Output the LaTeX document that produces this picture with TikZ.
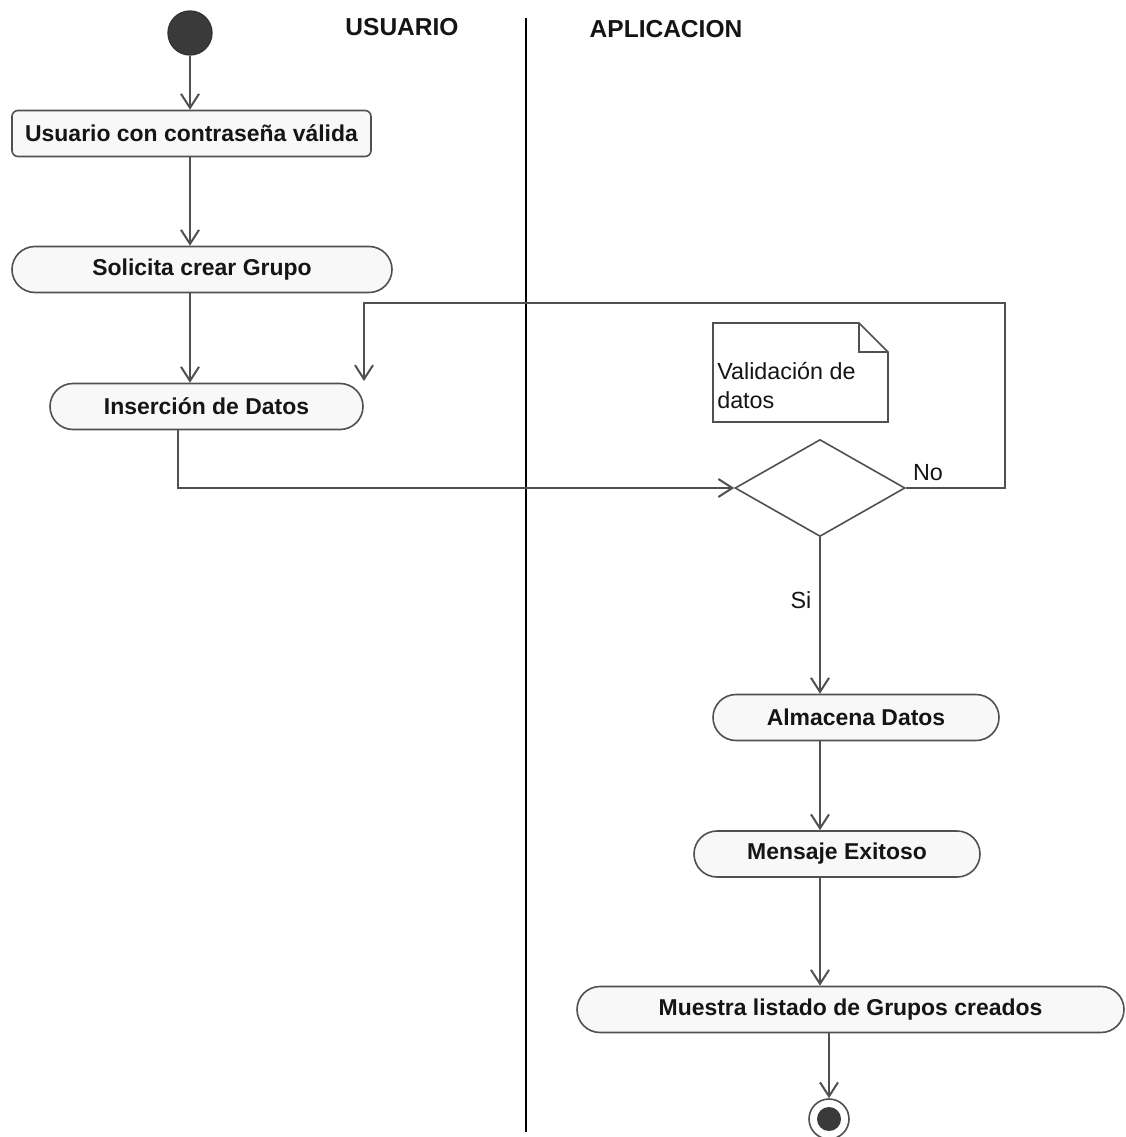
\documentclass[tikz,border=0pt]{standalone}
\usepackage{fontspec}
\setmainfont{Liberation Sans}
\usetikzlibrary{arrows.meta,shapes.geometric,calc}
\definecolor{linegray}{HTML}{505050}
\definecolor{fillgray}{HTML}{F8F8F8}
\definecolor{dotgray}{HTML}{3A3A3A}
\definecolor{textdark}{HTML}{151515}
\begin{document}
\begin{tikzpicture}[x=0.75pt,y=-0.75pt,
  arr/.style={draw=linegray,line width=1.5pt,-{Straight Barb[length=10.5pt,width=13.5pt,line width=1.5pt]}},
  conn/.style={draw=linegray,line width=1.5pt},
  actlabel/.style={font=\bfseries\fontsize{17.2pt}{19pt}\selectfont,text=textdark},
  stadium/.style={draw=linegray,line width=1.2pt,fill=fillgray,rectangle,rounded corners=17.25pt,
    minimum height=34.5pt,inner sep=0pt,actlabel},
  plainbox/.style={draw=linegray,line width=1.2pt,fill=fillgray,rectangle,rounded corners=4.5pt,
    minimum height=34.5pt,inner sep=0pt,actlabel},
  lanehead/.style={font=\bfseries\fontsize{18.4pt}{21pt}\selectfont,text=textdark},
  guard/.style={font=\fontsize{17.5pt}{20pt}\selectfont,text=textdark},
]
\useasboundingbox[fill=white] (0,0) rectangle (1126,1137);

% swimlane divider and headers
\draw[line width=1.5pt,black] (526,18) -- (526,1132);
\node[lanehead] (hUser) at (402,27) {USUARIO};
\node[lanehead] (hApp) at (666,29) {APLICACION};

% activity nodes
\node[circle,fill=dotgray,draw=black!80,line width=1pt,minimum size=33pt,inner sep=0pt] (start) at (190,33) {};
\node[plainbox,minimum width=269.25pt] (n1) at (191.5,133.5) {Usuario con contraseña válida};
\node[stadium,minimum width=285pt] (n2) at (202,269.5) {Solicita crear Grupo};
\node[stadium,minimum width=234.75pt] (n3) at (206.5,406.5) {Inserción de Datos};
\node[diamond,draw=linegray,line width=1.2pt,fill=white,minimum width=127.5pt,minimum height=72.75pt,inner sep=0pt] (dec) at (820,488) {};
\node[stadium,minimum width=214.5pt] (n4) at (856,717.5) {Almacena Datos};
\node[stadium,minimum width=214.5pt] (n5) at (837,854) {Mensaje Exitoso};
\node[stadium,minimum width=410.25pt] (n6) at (850.5,1009.5) {Muestra listado de Grupos creados};
\node[circle,draw=linegray,line width=1.2pt,fill=white,minimum size=30pt,inner sep=0pt] (end) at (829,1119) {};
\node[circle,fill=dotgray,minimum size=18pt,inner sep=0pt] (endDot) at (end.center) {};

% note attached to the decision
\draw[linegray,line width=1.2pt,fill=white] (713,323) -- (859,323) -- (888,352) -- (888,422) -- (713,422) -- cycle;
\draw[linegray,line width=1.2pt] (859,323) -- (859,352) -- (888,352);
\node[font=\fontsize{17.5pt}{21.75pt}\selectfont,text=textdark,align=left,anchor=west,inner sep=0pt] (note) at (717,386) {Validación de\\datos};

% flow
\draw[arr] (start) -- (start |- n1.north);
\draw[arr] (n1.south -| start) -- (n2.north -| start);
\draw[arr] (n2.south -| start) -- (n3.north -| start);
\draw[arr] ($(n3.south)+(-28.5,0)$) |- (dec.west);
\coordinate (loopend) at (364,381);
\draw[arr] (dec.east) -| (1005,303) -| (loopend);
\draw[arr] (dec.south) -- (dec.south |- n4.north);
\draw[arr] (n4.south -| dec) -- (n5.north -| dec);
\draw[arr] (n5.south -| dec) -- (n6.north -| dec);
\draw[arr] (n6.south -| end) -- (end.north);

% guards
\node[guard] (gNo) at (928,473) {No};
\node[guard] (gSi) at (801,600) {Si};
\end{tikzpicture}
\end{document}
